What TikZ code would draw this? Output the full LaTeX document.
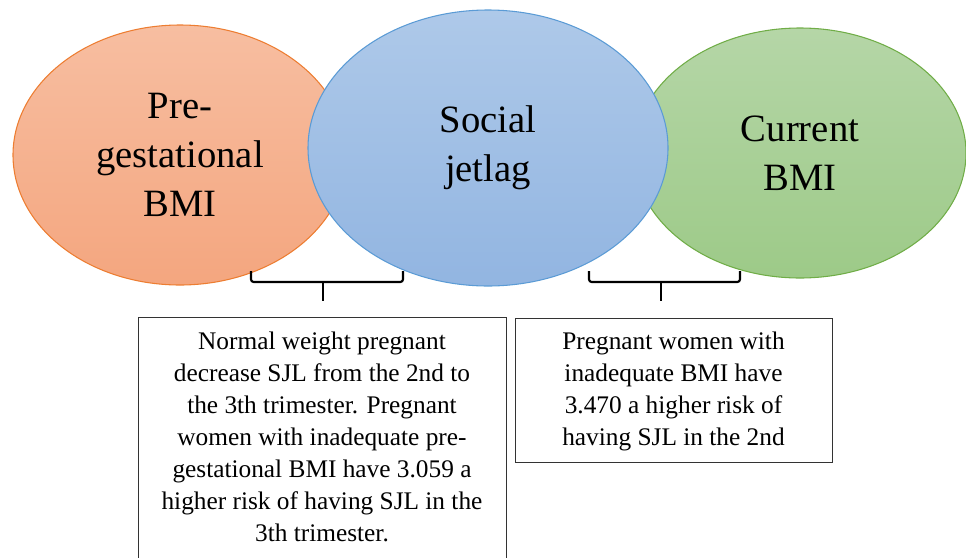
\documentclass[tikz,border=0pt]{standalone}
\usepackage{fontspec}
\setmainfont{Liberation Serif}
\usetikzlibrary{shapes.geometric}
\definecolor{orTop}{HTML}{F7BEA1}
\definecolor{orBot}{HTML}{F4A67F}
\definecolor{orLine}{HTML}{ED7D31}
\definecolor{blTop}{HTML}{AEC9E9}
\definecolor{blBot}{HTML}{92B5E1}
\definecolor{blLine}{HTML}{5B9BD5}
\definecolor{grTop}{HTML}{B5D6A7}
\definecolor{grBot}{HTML}{9DCA88}
\definecolor{grLine}{HTML}{70AD47}
\begin{document}
\begin{tikzpicture}[x=0.75pt,y=-0.75pt,
  bubble/.style={ellipse, inner sep=0pt, align=center, line width=0.8pt,
    font=\fontsize{29}{37}\selectfont, shading=axis, shading angle=0},
  infobox/.style={draw=black!80, line width=0.8pt, rectangle, inner sep=0pt},
  infotext/.style={align=center, inner sep=0pt, font=\fontsize{19}{24}\selectfont},
  brace/.style={draw=black, line width=1.6pt, rounded corners=2pt}]
\useasboundingbox (0,0) rectangle (966,557);
\node[bubble, draw=orLine, top color=orTop, bottom color=orBot,
  minimum width=250.5pt, minimum height=195pt] (pre) at (180,155)
  {Pre-\\gestational\\BMI};
\node[bubble, draw=grLine, top color=grTop, bottom color=grBot,
  minimum width=249pt, minimum height=187.5pt] (cur) at (800,153)
  {Current\\BMI};
\node[bubble, draw=blLine, top color=blTop, bottom color=blBot,
  minimum width=270pt, minimum height=207pt] (sjl) at (488,148)
  {Social\\jetlag};
% braces
\coordinate (b1l) at (251,271);
\coordinate (b1r) at (403,271);
\coordinate (b1m) at (323,282);
\coordinate (b1t) at (323,301);
\draw[brace] (b1l) |- (b1m) -| (b1r);
\draw[brace] (b1m) -- (b1t);
\coordinate (b2l) at (589,271);
\coordinate (b2r) at (740,271);
\coordinate (b2m) at (661,282);
\coordinate (b2t) at (661,301);
\draw[brace] (b2l) |- (b2m) -| (b2r);
\draw[brace] (b2m) -- (b2t);
% boxes
\node[infobox, anchor=north west, minimum width=276pt, minimum height=195pt] (lbox) at (138,317) {};
\node[infobox, anchor=north west, minimum width=237.75pt, minimum height=108pt] (rbox) at (515,318) {};
\node[infotext, anchor=north] (ltext) at (322,332)
  {Normal weight pregnant\\decrease SJL from the 2nd to\\the 3th trimester. Pregnant\\women with inadequate pre-\\gestational BMI have 3.059 a\\higher risk of having SJL in the\\3th trimester.};
\node[infotext, anchor=north] (rtext) at (673.5,332)
  {Pregnant women with\\inadequate BMI have\\3.470 a higher risk of\\having SJL in the 2nd};
\end{tikzpicture}
\end{document}
